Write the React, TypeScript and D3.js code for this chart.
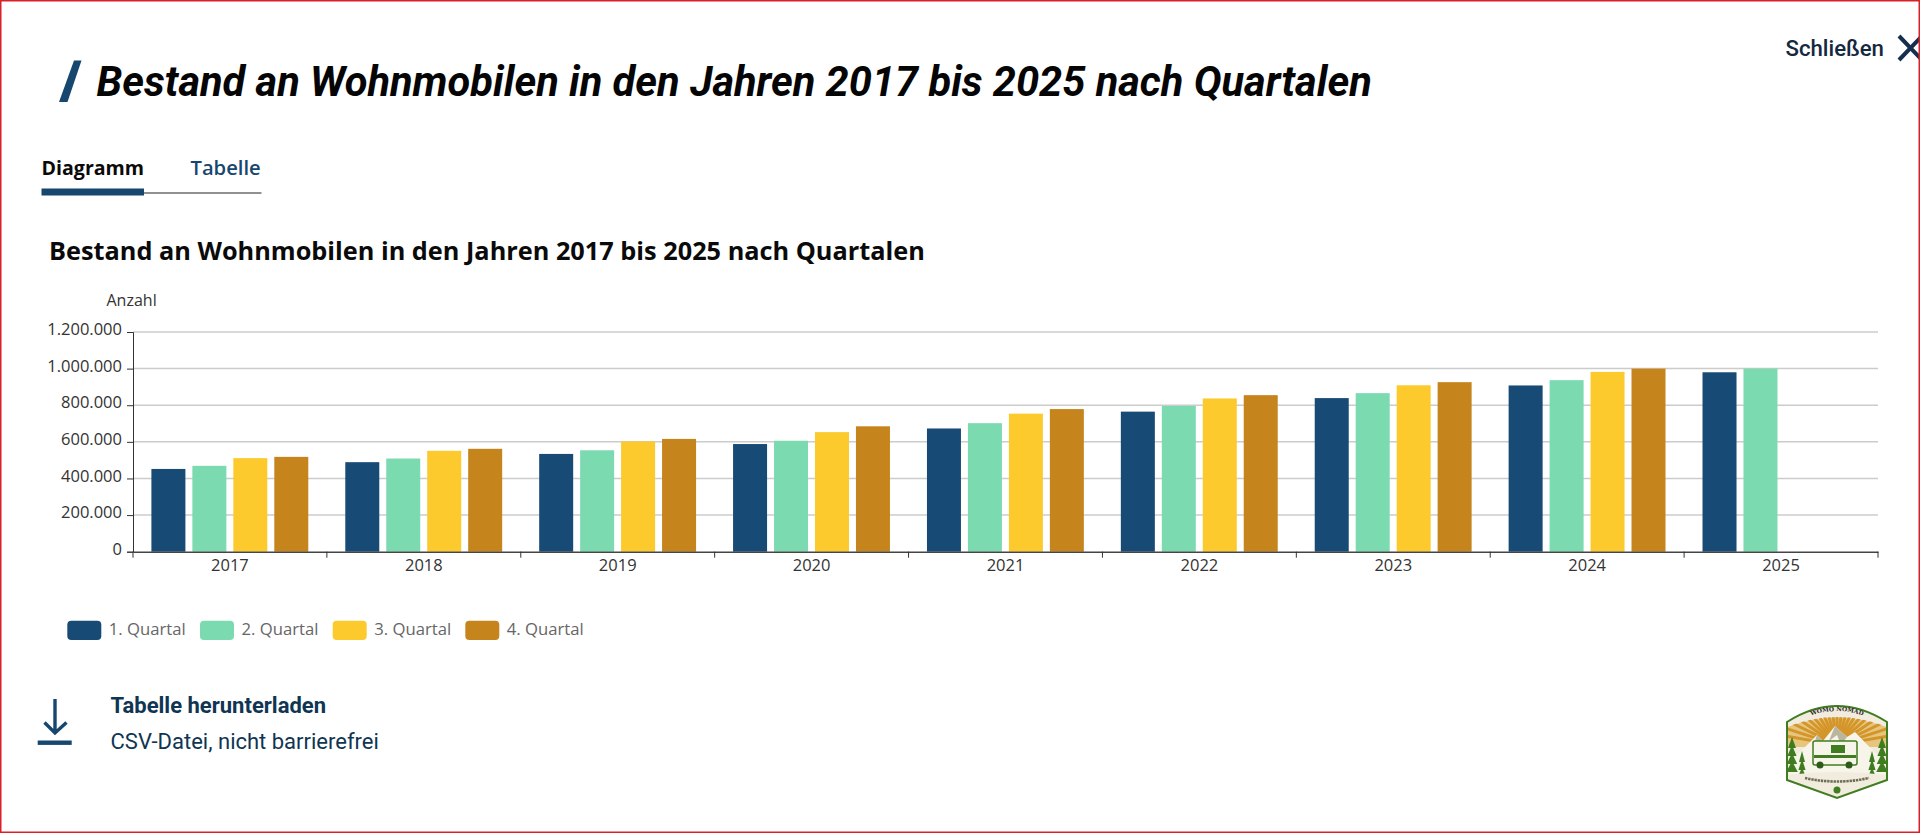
import { useEffect, useRef } from 'react'
import * as d3 from 'd3'

const years = ['2017', '2018', '2019', '2020', '2021', '2022', '2023', '2024', '2025']
const quarters = ['1. Quartal', '2. Quartal', '3. Quartal', '4. Quartal']
const q1 = [452000, 489000, 534000, 588000, 673000, 765000, 839000, 908000, 980000]
const q2 = [469000, 509000, 554000, 606000, 702000, 796000, 866000, 937000, 1000000]
const q3 = [511000, 551000, 602000, 653000, 754000, 837000, 909000, 982000, null]
const q4 = [518000, 562000, 616000, 685000, 779000, 855000, 926000, 1000000, null]
const series = [q1, q2, q3, q4]
const colors = ['#174a75', '#7bdab0', '#fcca2c', '#c6841c']
const yTicks = [0, 200000, 400000, 600000, 800000, 1000000, 1200000]

const heading = 'Bestand an Wohnmobilen in den Jahren 2017 bis 2025 nach Quartalen'
const navy = '#17466f'
const ink = '#0f3553'

const fmt = (v: number) => d3.format(',')(v).replace(/,/g, '.')

export default function App() {
  const svgRef = useRef<SVGSVGElement | null>(null)

  useEffect(() => {
    if (!svgRef.current) return
    const svg = d3.select(svgRef.current)
    svg.selectAll('*').remove()

    const left = 133
    const right = 1878
    const top = 332
    const bottom = 551.7
    const chartFont = '"Open Sans", sans-serif'

    const x = d3.scaleBand().domain(years).range([left, right])
    const inner = d3.scaleBand().domain(quarters).range([18.4, x.bandwidth() - 18.6]).paddingInner(0.17)
    const y = d3.scaleLinear().domain([0, 1200000]).range([bottom, top])

    // Header
    svg.append('path')
      .attr('d', 'M74 60.5 L81.5 60.5 L67.5 102 L59 102 Z')
      .attr('fill', navy)
    svg.append('text')
      .attr('x', 96.5).attr('y', 95.5)
      .attr('font-family', 'Roboto').attr('font-weight', 700).attr('font-style', 'italic')
      .attr('font-size', 41.6).attr('fill', '#050505')
      .text(heading)

    svg.append('text')
      .attr('x', 1785.5).attr('y', 56)
      .attr('font-family', 'Roboto').attr('font-weight', 500).attr('font-size', 22.2)
      .attr('fill', '#14293f')
      .text('Schließen')
    svg.append('path')
      .attr('d', 'M1899 36 L1922 60 M1899 60 L1922 36')
      .attr('stroke', '#14304d').attr('stroke-width', 4).attr('fill', 'none')

    // Tabs
    svg.append('text')
      .attr('x', 41.5).attr('y', 175)
      .attr('font-family', chartFont).attr('font-weight', 700).attr('font-size', 19.6)
      .attr('fill', '#0a0a0a')
      .text('Diagramm')
    svg.append('text')
      .attr('x', 190.5).attr('y', 175)
      .attr('font-family', chartFont).attr('font-weight', 600).attr('font-size', 20.2)
      .attr('fill', navy)
      .text('Tabelle')
    svg.append('rect').attr('x', 144).attr('y', 192.2).attr('width', 117.5).attr('height', 1.6).attr('fill', '#777')
    svg.append('rect').attr('x', 41.5).attr('y', 188.5).attr('width', 102.5).attr('height', 7).attr('fill', navy)

    svg.append('text')
      .attr('x', 49).attr('y', 260)
      .attr('font-family', chartFont).attr('font-weight', 700).attr('font-size', 25.3)
      .attr('fill', '#0a0a0a')
      .text(heading)

    svg.append('text')
      .attr('x', 106.5).attr('y', 306)
      .attr('font-family', chartFont).attr('font-size', 16).attr('fill', '#333')
      .text('Anzahl')

    // Grid
    svg.append('g').selectAll('line')
      .data(yTicks.filter(d => d > 0))
      .join('line')
      .attr('x1', left).attr('x2', right)
      .attr('y1', d => y(d)).attr('y2', d => y(d))
      .attr('stroke', '#cccccc').attr('stroke-width', 1.5)

    // Bars
    series.forEach((values, i) => {
      svg.append('g').selectAll('rect')
        .data(years.map((year, j) => ({ year, value: values[j] })).filter(d => d.value != null))
        .join('rect')
        .attr('x', d => (x(d.year) as number) + (inner(quarters[i]) as number))
        .attr('y', d => y(d.value as number))
        .attr('width', inner.bandwidth())
        .attr('height', d => bottom - y(d.value as number))
        .attr('fill', colors[i])
    })

    // Axes
    const yAxis = svg.append('g').attr('transform', `translate(${left},0)`)
      .call(d3.axisLeft(y).tickValues(yTicks).tickSize(6).tickPadding(5).tickFormat(d => fmt(d as number)))
    yAxis.select('.domain').attr('stroke', '#333').attr('stroke-width', 1)
    yAxis.selectAll('line').attr('stroke', '#333')
    yAxis.selectAll('text')
      .attr('font-family', chartFont).attr('font-size', 16.5).attr('fill', '#333').attr('dy', '0.16em')

    const xAxis = svg.append('g').attr('transform', `translate(0,${bottom})`)
      .call(d3.axisBottom(x).tickSize(0).tickPadding(8))
    xAxis.select('.domain').attr('stroke', '#444').attr('stroke-width', 1.6)
    xAxis.selectAll('text')
      .attr('font-family', chartFont).attr('font-size', 16.5).attr('fill', '#333')
    svg.append('g').selectAll('line')
      .data([...years.map(d => x(d) as number), right])
      .join('line')
      .attr('x1', d => d).attr('x2', d => d)
      .attr('y1', bottom).attr('y2', bottom + 6)
      .attr('stroke', '#333')

    // Legend
    const legendX = [67.3, 200, 332.7, 465.3]
    quarters.forEach((q, i) => {
      svg.append('rect')
        .attr('x', legendX[i]).attr('y', 620.7)
        .attr('width', 34).attr('height', 19.3).attr('rx', 4)
        .attr('fill', colors[i])
      svg.append('text')
        .attr('x', legendX[i] + 41.5).attr('y', 634.8)
        .attr('font-family', chartFont).attr('font-size', 16.7).attr('fill', '#666')
        .text(q)
    })

    // Download
    svg.append('path')
      .attr('d', 'M55 699 L55 733 M44.5 722.5 L55 733 L66.5 722.5')
      .attr('stroke', navy).attr('stroke-width', 3.4).attr('fill', 'none')
    svg.append('rect').attr('x', 37.7).attr('y', 740.5).attr('width', 34).attr('height', 4.4).attr('fill', navy)
    svg.append('text')
      .attr('x', 110.5).attr('y', 712.7)
      .attr('font-family', 'Roboto').attr('font-weight', 700).attr('font-size', 22)
      .attr('fill', ink)
      .text('Tabelle herunterladen')
    svg.append('text')
      .attr('x', 110.5).attr('y', 749)
      .attr('font-family', 'Roboto').attr('font-size', 22)
      .attr('fill', ink)
      .text('CSV-Datei, nicht barrierefrei')

    // Logo badge
    const green = '#3f7d20'
    const logo = svg.append('g').attr('transform', 'translate(1787,705)')
    const outline = 'M0 17 Q50 -15 100 17 L100 75 L50 93 L0 75 Z'
    logo.append('clipPath').attr('id', 'badge').append('path').attr('d', outline)
    logo.append('path').attr('d', outline).attr('fill', '#f2ecdf')
    const art = logo.append('g').attr('clip-path', 'url(#badge)')
    // sunburst
    art.append('path').attr('d', 'M0 22 Q50 4 100 22 L100 42 L0 42 Z').attr('fill', '#e6c67e')
    d3.range(-80, 81, 8).forEach(a => {
      const t = (a * Math.PI) / 180
      art.append('line')
        .attr('x1', 50).attr('y1', 40)
        .attr('x2', 50 + 70 * Math.sin(t)).attr('y2', 40 - 70 * Math.cos(t))
        .attr('stroke', '#d4952a').attr('stroke-width', 3)
    })
    art.append('path').attr('d', 'M-5 24 Q50 0 105 24 L105 -10 L-5 -10 Z').attr('fill', '#f2ecdf')
    // mountains
    art.append('path').attr('d', 'M2 58 L30 30 L36 36 L48 21 L60 32 L68 27 L98 58 L98 70 L2 70 Z').attr('fill', '#f7f4ea')
    art.append('path').attr('d', 'M48 21 L42 36 L50 30 L54 40 L60 32 Z M30 30 L26 42 L36 36 Z').attr('fill', '#b9b59f')
    // van
    art.append('rect').attr('x', 26).attr('y', 36).attr('width', 44).attr('height', 24).attr('rx', 2)
      .attr('fill', '#f7f4ea').attr('stroke', green).attr('stroke-width', 1.5)
    art.append('rect').attr('x', 44).attr('y', 40).attr('width', 14).attr('height', 8).attr('fill', green)
    art.append('rect').attr('x', 27).attr('y', 50).attr('width', 42).attr('height', 3).attr('fill', green)
    art.append('circle').attr('cx', 33).attr('cy', 60).attr('r', 3.5).attr('fill', '#2d5a18')
    art.append('circle').attr('cx', 62).attr('cy', 60).attr('r', 3.5).attr('fill', '#2d5a18')
    // trees
    ;[[5, 32, 4], [15, 46, 3], [95, 32, 4], [85, 46, 3]].forEach(([cx, ty, w]) => {
      d3.range(0, 4).forEach(k => {
        const a = ty + k * 8
        art.append('path')
          .attr('d', `M${cx} ${a} L${cx + w + k * 0.6} ${a + 11} L${cx - w - k * 0.6} ${a + 11} Z`)
          .attr('fill', green)
      })
    })
    art.append('path').attr('d', 'M0 70 Q50 64 100 70 L100 95 L0 95 Z').attr('fill', '#f2ecdf')
    logo.append('path').attr('d', outline).attr('fill', 'none').attr('stroke', green).attr('stroke-width', 2)
    logo.append('path').attr('id', 'logoArc').attr('d', 'M18 13 Q50 -1 82 13').attr('fill', 'none')
    logo.append('text')
      .attr('font-family', '"DejaVu Serif"').attr('font-weight', 700).attr('font-size', 6).attr('fill', '#2b2b2b')
      .append('textPath').attr('href', '#logoArc').attr('startOffset', '50%').attr('text-anchor', 'middle')
      .text('WOMO NOMAD')
    // the small line under the van is not legible in the reference, so it stays a dashed stroke
    logo.append('path').attr('d', 'M18 73 Q50 80 82 73').attr('fill', 'none')
      .attr('stroke', '#6d6f55').attr('stroke-width', 2.6).attr('stroke-dasharray', '2.4 0.8')
    logo.append('circle').attr('cx', 50).attr('cy', 85).attr('r', 3.5).attr('fill', green)

    // Frame
    svg.append('rect').attr('x', 0.75).attr('y', 0.75).attr('width', 1918.5).attr('height', 831.5)
      .attr('fill', 'none').attr('stroke', '#d9202a').attr('stroke-width', 1.5)
  }, [])

  return (
    <svg
      ref={svgRef}
      width={1920}
      height={833}
      viewBox="0 0 1920 833"
      style={{ position: 'absolute', left: 0, top: 0, display: 'block', background: '#fff' }}
    />
  )
}
